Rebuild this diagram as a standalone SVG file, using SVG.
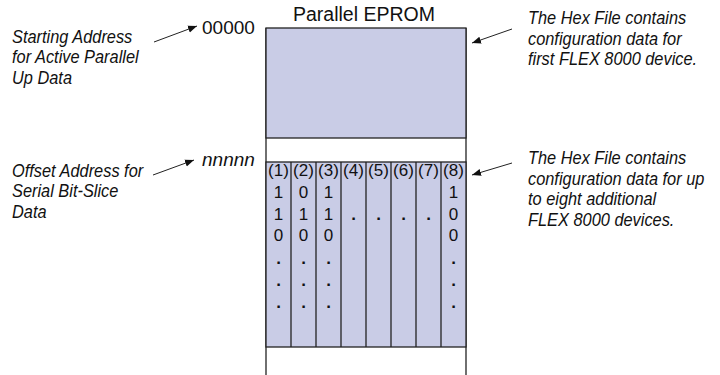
<svg xmlns="http://www.w3.org/2000/svg" width="720" height="375" viewBox="0 0 720 375">
<style>
.lbl{font-family:"Liberation Sans",Arial,sans-serif;font-style:italic;font-size:18.7px;fill:#111}
.addr{font-family:"Liberation Sans",Arial,sans-serif;font-size:19px;fill:#111}
.title{font-family:"Liberation Sans",Arial,sans-serif;font-size:19.5px;fill:#111}
.cell{font-family:"Liberation Sans",Arial,sans-serif;font-size:17px;fill:#111;text-anchor:middle}
.dot{font-weight:bold}
.blk{fill:#c9cce6;stroke:#222;stroke-width:1.3}
.ln{stroke:#222;stroke-width:1.3;fill:none}
.conn{stroke:#222;stroke-width:1;fill:none;marker-end:url(#ah)}
</style>
<defs>
<marker id="ah" viewBox="0 0 10 10" refX="10" refY="5" markerWidth="9" markerHeight="9" markerUnits="userSpaceOnUse" orient="auto">
<path d="M0,1 L10,5 L0,9 z" fill="#111"/>
</marker>
</defs>
<g id="eprom">
<text class="title" x="293" y="20.5">Parallel EPROM</text>
<line class="ln" x1="266" y1="28" x2="266" y2="375"/>
<line class="ln" x1="466" y1="28" x2="466" y2="375" stroke="#555"/>
<rect class="blk" x="266" y="28" width="200" height="110"/>
<rect class="blk" x="266" y="162" width="200" height="185"/>
<g class="ln">
<line x1="291" y1="162" x2="291" y2="347"/>
<line x1="316" y1="162" x2="316" y2="347"/>
<line x1="341" y1="162" x2="341" y2="347"/>
<line x1="366" y1="162" x2="366" y2="347"/>
<line x1="391" y1="162" x2="391" y2="347"/>
<line x1="416" y1="162" x2="416" y2="347"/>
<line x1="441" y1="162" x2="441" y2="347"/>
</g>
<g class="cell">
<text x="278.5" y="176">(1)</text>
<text x="303.5" y="176">(2)</text>
<text x="328.5" y="176">(3)</text>
<text x="353.5" y="176">(4)</text>
<text x="378.5" y="176">(5)</text>
<text x="403.5" y="176">(6)</text>
<text x="428.5" y="176">(7)</text>
<text x="453.5" y="176">(8)</text>
<text x="278.5" y="197.8">1</text>
<text x="303.5" y="197.8">0</text>
<text x="328.5" y="197.8">1</text>
<text x="453.5" y="197.8">1</text>
<text x="278.5" y="219.6">1</text>
<text x="303.5" y="219.6">1</text>
<text x="328.5" y="219.6">1</text>
<text class="dot" x="353.5" y="219.6">.</text>
<text class="dot" x="378.5" y="219.6">.</text>
<text class="dot" x="403.5" y="219.6">.</text>
<text class="dot" x="428.5" y="219.6">.</text>
<text x="453.5" y="219.6">0</text>
<text x="278.5" y="241.4">0</text>
<text x="303.5" y="241.4">0</text>
<text x="328.5" y="241.4">0</text>
<text x="453.5" y="241.4">0</text>
<text class="dot" x="278.5" y="264">.</text>
<text class="dot" x="303.5" y="264">.</text>
<text class="dot" x="328.5" y="264">.</text>
<text class="dot" x="453.5" y="264">.</text>
<text class="dot" x="278.5" y="285.8">.</text>
<text class="dot" x="303.5" y="285.8">.</text>
<text class="dot" x="328.5" y="285.8">.</text>
<text class="dot" x="453.5" y="285.8">.</text>
<text class="dot" x="278.5" y="307.6">.</text>
<text class="dot" x="303.5" y="307.6">.</text>
<text class="dot" x="328.5" y="307.6">.</text>
<text class="dot" x="453.5" y="307.6">.</text>
</g>
</g>
<g id="addr-start"><text class="addr" x="202" y="34">00000</text></g>
<g id="addr-offset"><text class="addr" x="202" y="166" font-style="italic">nnnnn</text></g>
<g id="label-start" transform="translate(12,0) scale(0.875,1)">
<text class="lbl" x="0" y="42.7">Starting Address</text>
<text class="lbl" x="0" y="63.4">for Active Parallel</text>
<text class="lbl" x="0" y="84.1">Up Data</text>
</g>
<g id="label-offset" transform="translate(12,0) scale(0.875,1)">
<text class="lbl" x="0" y="176.7">Offset Address for</text>
<text class="lbl" x="0" y="197.4">Serial Bit-Slice</text>
<text class="lbl" x="0" y="218.1">Data</text>
</g>
<g id="label-first" transform="translate(528,0) scale(0.875,1)">
<text class="lbl" x="0" y="24">The Hex File contains</text>
<text class="lbl" x="0" y="44.7">configuration data for</text>
<text class="lbl" x="0" y="65.4">first FLEX 8000 device.</text>
</g>
<g id="label-additional" transform="translate(528,0) scale(0.875,1)">
<text class="lbl" x="0" y="164">The Hex File contains</text>
<text class="lbl" x="0" y="184.6">configuration data for up</text>
<text class="lbl" x="0" y="205.2">to eight additional</text>
<text class="lbl" x="0" y="225.8">FLEX 8000 devices.</text>
</g>
<g id="connectors">
<line class="conn" x1="154" y1="42" x2="197" y2="26"/>
<line class="conn" x1="153" y1="175" x2="194" y2="160"/>
<line class="conn" x1="512" y1="29" x2="472" y2="43"/>
<line class="conn" x1="512" y1="163" x2="472" y2="175"/>
</g>
</svg>
